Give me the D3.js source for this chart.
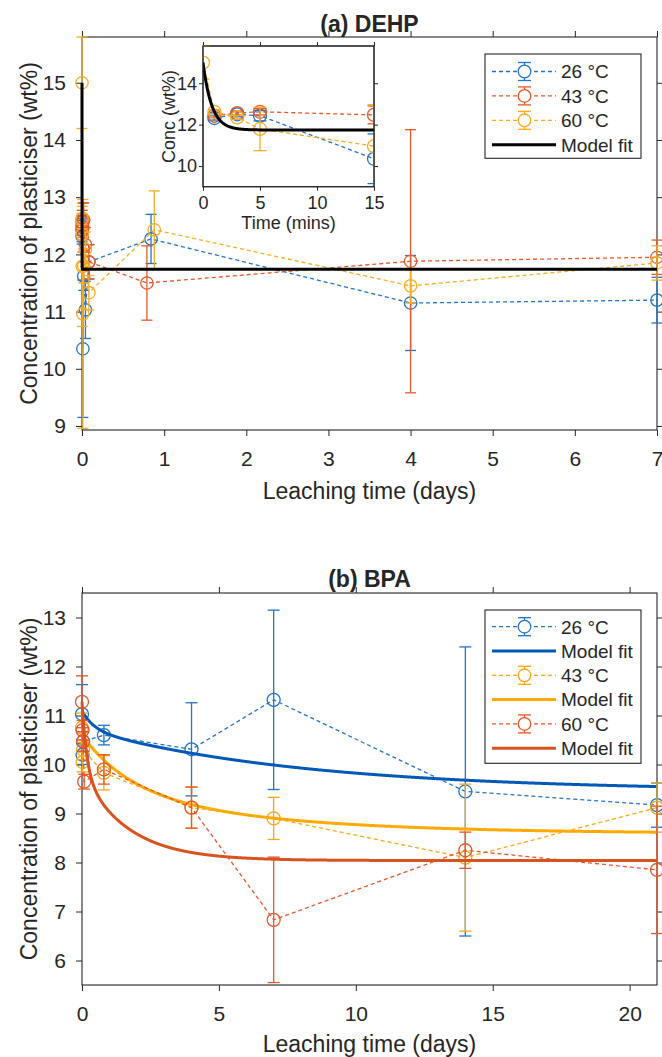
<!DOCTYPE html>
<html><head><meta charset="utf-8">
<script src="https://cdn.jsdelivr.net/npm/d3@7"></script>
<style>
body{margin:0;background:#fff}
svg{display:block}
text{font-family:"Liberation Sans",Arial,Helvetica,sans-serif;fill:#262626}
</style>
</head><body>
<svg id="c" width="662" height="1057"></svg>
<script>
// ===== (a) DEHP data, time in minutes =====
const dehpMin26 = [1, 3, 5, 15, 30, 60, 120, 1210, 5760, 10080];
const dehpConc26 = [12.32, 12.50, 12.43, 10.35, 11.62, 11.03, 11.87, 12.27, 11.15, 11.20];
const dehpErr26 = [0.10, 0.12, 0.25, 1.20, 0.25, 0.50, 0.30, 0.43, 0.83, 0.40];

const dehpMin43 = [1, 3, 5, 15, 30, 60, 120, 1138, 5760, 10080];
const dehpConc43 = [12.43, 12.56, 12.62, 12.47, 12.60, 12.17, 11.87, 11.50, 11.88, 11.95];
const dehpErr43 = [0.10, 0.10, 0.15, 0.43, 0.30, 0.30, 0.30, 0.65, 2.30, 0.30];

const dehpMin60 = [0, 1, 3, 5, 15, 30, 60, 120, 1267, 5760, 10080];
const dehpConc60 = [15.00, 12.62, 12.35, 11.79, 10.96, 11.80, 12.09, 11.33, 12.43, 11.45, 11.85];
const dehpErr60 = [0.80, 0.10, 0.10, 1.05, 2.00, 0.30, 0.30, 0.30, 0.68, 0.30, 0.30];

// DEHP model fit parameters: C = Cinf + (C0 - Cinf) exp(-k t), t in minutes
const dehpFitInf = 11.74;
const dehpFitC0 = 15.0;
const dehpFitK = 1.3;

const dehpLegend = ["26 °C", "43 °C", "60 °C", "Model fit"];
const dehpXTicks = [0, 1, 2, 3, 4, 5, 6, 7];
const dehpYTicks = [9, 10, 11, 12, 13, 14, 15];
const insetXTicks = [0, 5, 10, 15];
const insetYTicks = [10, 12, 14];

// ===== (b) BPA data, time in days =====
const bpaDay26 = [0, 0.02, 0.04, 0.8, 4, 7, 14, 21];
const bpaConc26 = [11.03, 10.20, 10.47, 10.60, 10.31, 11.32, 9.45, 9.17];
const bpaErr26 = [0.60, 0.20, 0.20, 0.20, 0.95, 1.83, 2.95, 0.45];

const bpaDay43 = [0, 0.02, 0.04, 0.8, 4, 7, 14, 21];
const bpaConc43 = [10.75, 10.05, 10.30, 9.83, 9.12, 8.90, 8.10, 9.12];
const bpaErr43 = [0.30, 0.20, 0.20, 0.35, 0.42, 0.43, 1.50, 0.50];

const bpaDay60 = [0, 0.02, 0.04, 0.08, 0.8, 4, 7, 14, 21];
const bpaConc60 = [11.28, 10.70, 10.47, 9.65, 9.90, 9.12, 6.83, 8.25, 7.85];
const bpaErr60 = [0.53, 0.20, 0.20, 0.15, 0.30, 0.42, 1.28, 0.37, 1.30];

// BPA model fits (26, 43, 60 °C): C = Cinf + A1 exp(-t/tau1) + A2 exp(-t/tau2)
const bpaFitInf = [9.456, 8.59, 8.04];
const bpaFitA1 = [0.37, 1.06, 1.44];
const bpaFitTau1 = [0.43, 1.73, 0.177];
const bpaFitA2 = [1.27, 0.95, 1.80];
const bpaFitTau2 = [8.07, 6.0, 1.67];

const bpaLegend = ["26 °C", "Model fit", "43 °C", "Model fit", "60 °C", "Model fit"];
const bpaXTicks = [0, 5, 10, 15, 20];
const bpaYTicks = [6, 7, 8, 9, 10, 11, 12, 13];

// ===== styling =====
const AX = "#262626";
const topColors = ["#2275c9", "#e8592a", "#f8ad22"];
const botColors = ["#2275c9", "#f8a81a", "#e8562a"];
const botFitColors = ["#0058b8", "#ffaa00", "#d9531e"];

const svg = d3.select("#c");

function axes(g, xs, ys, xt, yt, o) {
  const [x0, x1] = xs.range();
  const [y0, y1] = ys.range();
  const tl = o.tickLen;
  const fs = o.fs;
  const clean = s => { s.select(".domain").remove(); s.selectAll("line").attr("stroke", AX).attr("stroke-width", 1); };
  g.append("g").attr("transform", `translate(0,${y0})`)
    .call(d3.axisBottom(xs).tickValues(xt).tickSize(tl).tickPadding(o.padX).tickFormat(d3.format("d")))
    .call(clean).call(s => s.selectAll("text").attr("font-size", fs).attr("fill", AX));
  g.append("g").attr("transform", `translate(0,${y1})`)
    .call(d3.axisTop(xs).tickValues(xt).tickSize(tl).tickFormat(""))
    .call(clean);
  g.append("g").attr("transform", `translate(${x0},0)`)
    .call(d3.axisLeft(ys).tickValues(yt).tickSize(tl).tickPadding(o.padY).tickFormat(d3.format("d")))
    .call(clean).call(s => s.selectAll("text").attr("font-size", fs).attr("fill", AX));
  g.append("g").attr("transform", `translate(${x1},0)`)
    .call(d3.axisRight(ys).tickValues(yt).tickSize(tl).tickFormat(""))
    .call(clean);
  g.selectAll("g").attr("font-family", '"Liberation Sans",Arial,sans-serif');
  g.append("rect").attr("x", x0).attr("y", y1).attr("width", x1 - x0).attr("height", y0 - y1)
    .attr("fill", "none").attr("stroke", AX).attr("stroke-width", 1.1);
}

function series(g, xs, ys, ts, vs, es, color, o) {
  const pts = ts.map((t, i) => ({ t, v: vs[i], e: es[i] }));
  g.append("path").datum(pts)
    .attr("d", d3.line().x(d => xs(d.t)).y(d => ys(d.v)))
    .attr("fill", "none").attr("stroke", color).attr("stroke-width", 1.3)
    .attr("stroke-dasharray", "4,3");
  const eb = g.append("g").attr("stroke", color).attr("stroke-width", 1.3);
  pts.forEach(d => {
    const px = xs(d.t), a = ys(d.v + d.e), b = ys(d.v - d.e);
    eb.append("line").attr("x1", px).attr("x2", px).attr("y1", a).attr("y2", b);
    eb.append("line").attr("x1", px - o.cap / 2).attr("x2", px + o.cap / 2).attr("y1", a).attr("y2", a);
    eb.append("line").attr("x1", px - o.cap / 2).attr("x2", px + o.cap / 2).attr("y1", b).attr("y2", b);
  });
  g.append("g").selectAll("circle").data(pts).join("circle")
    .attr("cx", d => xs(d.t)).attr("cy", d => ys(d.v)).attr("r", o.r)
    .attr("fill", "none").attr("stroke", color).attr("stroke-width", 1.3);
}

function fitLine(g, xs, ys, ts, fn, color) {
  g.append("path").datum(ts)
    .attr("d", d3.line().x(t => xs(t)).y(t => ys(fn(t))))
    .attr("fill", "none").attr("stroke", color).attr("stroke-width", 3)
    .attr("stroke-linejoin", "round");
}

function legend(g, x, y, w, h, rowY0, dy, items) {
  g.append("rect").attr("x", x).attr("y", y).attr("width", w).attr("height", h)
    .attr("fill", "#fff").attr("stroke", AX).attr("stroke-width", 1.1);
  items.forEach((it, i) => {
    const cy = rowY0 + i * dy;
    const lx0 = x + 7, lx1 = x + 71, mx = x + 39.5;
    if (it.type === "data") {
      g.append("line").attr("x1", lx0).attr("x2", lx1).attr("y1", cy).attr("y2", cy)
        .attr("stroke", it.color).attr("stroke-width", 1.3).attr("stroke-dasharray", "4,3");
      const m = g.append("g").attr("stroke", it.color).attr("stroke-width", 1.3).attr("fill", "none");
      m.append("line").attr("x1", mx).attr("x2", mx).attr("y1", cy - 9).attr("y2", cy + 9);
      m.append("line").attr("x1", mx - 6.5).attr("x2", mx + 6.5).attr("y1", cy - 9).attr("y2", cy - 9);
      m.append("line").attr("x1", mx - 6.5).attr("x2", mx + 6.5).attr("y1", cy + 9).attr("y2", cy + 9);
      m.append("circle").attr("cx", mx).attr("cy", cy).attr("r", 6.3).attr("fill", "#fff");
    } else {
      g.append("line").attr("x1", lx0).attr("x2", lx1).attr("y1", cy).attr("y2", cy)
        .attr("stroke", it.color).attr("stroke-width", 3);
    }
    g.append("text").attr("x", x + 76).attr("y", cy).attr("dy", "0.36em")
      .attr("font-size", 19).attr("fill", "#000").text(it.label);
  });
}

// ================= Panel (a) =================
const ga = svg.append("g");
const xa = d3.scaleLinear().domain([0, 7]).range([82, 657]);
const ya = d3.scaleLinear().domain([8.93, 15.8]).range([430, 37]);
axes(ga, xa, ya, dehpXTicks, dehpYTicks, { tickLen: 6, padX: 15, padY: 10, fs: 21 });
const xaMin = d3.scaleLinear().domain([0, 7 * 1440]).range([82, 657]);
series(ga, xaMin, ya, dehpMin26, dehpConc26, dehpErr26, topColors[0], { r: 6.2, cap: 11 });
series(ga, xaMin, ya, dehpMin43, dehpConc43, dehpErr43, topColors[1], { r: 6.2, cap: 11 });
series(ga, xaMin, ya, dehpMin60, dehpConc60, dehpErr60, topColors[2], { r: 6.2, cap: 11 });
const dehpFit = t => dehpFitInf + (dehpFitC0 - dehpFitInf) * Math.exp(-dehpFitK * t);
const dehpFitT = d3.range(0, 20, 0.05).concat(d3.range(20, 10081, 20));
fitLine(ga, xaMin, ya, dehpFitT, dehpFit, "#000");

ga.append("text").attr("x", 369.5).attr("y", 32).attr("text-anchor", "middle")
  .attr("font-size", 23).attr("font-weight", "bold").attr("fill", "#000").text("(a) DEHP");
ga.append("text").attr("x", 369.5).attr("y", 499).attr("text-anchor", "middle")
  .attr("font-size", 23).text("Leaching time (days)");
ga.append("text").attr("transform", "translate(37,233.5) rotate(-90)").attr("text-anchor", "middle")
  .attr("font-size", 23).text("Concentration of plasticiser (wt%)");

// inset
const gi = svg.append("g");
const xi = d3.scaleLinear().domain([0, 15]).range([203, 374]);
const yi = d3.scaleLinear().domain([9, 15.8]).range([186.7, 46]);
gi.append("rect").attr("x", 203).attr("y", 46).attr("width", 171).attr("height", 140.7).attr("fill", "#fff");
gi.append("clipPath").attr("id", "ic").append("rect").attr("x", 203).attr("y", 45).attr("width", 171).attr("height", 142);
axes(gi, xi, yi, insetXTicks, insetYTicks, { tickLen: 4, padX: 6, padY: 2, fs: 18 });
const gic = gi.append("g").attr("clip-path", "url(#ic)");
const inset = (ts, vs, es) => {
  const idx = ts.map((t, i) => i).filter(i => ts[i] <= 15);
  return [idx.map(i => ts[i]), idx.map(i => vs[i]), idx.map(i => es[i])];
};
series(gic, xi, yi, ...inset(dehpMin26, dehpConc26, dehpErr26), topColors[0], { r: 6.5, cap: 13 });
series(gic, xi, yi, ...inset(dehpMin43, dehpConc43, dehpErr43), topColors[1], { r: 6.5, cap: 13 });
series(gic, xi, yi, ...inset(dehpMin60, dehpConc60, dehpErr60), topColors[2], { r: 6.5, cap: 13 });
fitLine(gic, xi, yi, d3.range(0, 15.01, 0.05), dehpFit, "#000");
gi.append("rect").attr("x", 203).attr("y", 46).attr("width", 171).attr("height", 140.7)
  .attr("fill", "none").attr("stroke", AX).attr("stroke-width", 1.1);
gi.append("text").attr("x", 288.5).attr("y", 229).attr("text-anchor", "middle")
  .attr("font-size", 18).text("Time (mins)");
gi.append("text").attr("transform", "translate(175,116.4) rotate(-90)").attr("text-anchor", "middle")
  .attr("font-size", 18).text("Conc (wt%)");

legend(svg.append("g"), 485, 54, 156, 104.3, 71.5, 24.4, [
  { type: "data", color: topColors[0], label: dehpLegend[0] },
  { type: "data", color: topColors[1], label: dehpLegend[1] },
  { type: "data", color: topColors[2], label: dehpLegend[2] },
  { type: "fit", color: "#000", label: dehpLegend[3] }
]);

// ================= Panel (b) =================
const gb = svg.append("g");
const xb = d3.scaleLinear().domain([0, 21]).range([82, 657]);
const yb = d3.scaleLinear().domain([5.5, 13.5]).range([985, 593]);
axes(gb, xb, yb, bpaXTicks, bpaYTicks, { tickLen: 6, padX: 15, padY: 10, fs: 21 });
const bpaFit = i => t => bpaFitInf[i] + bpaFitA1[i] * Math.exp(-t / bpaFitTau1[i]) + bpaFitA2[i] * Math.exp(-t / bpaFitTau2[i]);
const bpaFitT = d3.range(0, 21.001, 0.01);
series(gb, xb, yb, bpaDay26, bpaConc26, bpaErr26, botColors[0], { r: 6.5, cap: 12 });
fitLine(gb, xb, yb, bpaFitT, bpaFit(0), botFitColors[0]);
series(gb, xb, yb, bpaDay43, bpaConc43, bpaErr43, botColors[1], { r: 6.5, cap: 12 });
fitLine(gb, xb, yb, bpaFitT, bpaFit(1), botFitColors[1]);
series(gb, xb, yb, bpaDay60, bpaConc60, bpaErr60, botColors[2], { r: 6.5, cap: 12 });
fitLine(gb, xb, yb, bpaFitT, bpaFit(2), botFitColors[2]);

gb.append("text").attr("x", 369.5).attr("y", 587).attr("text-anchor", "middle")
  .attr("font-size", 23).attr("font-weight", "bold").attr("fill", "#000").text("(b) BPA");
gb.append("text").attr("x", 369.5).attr("y", 1052).attr("text-anchor", "middle")
  .attr("font-size", 23).text("Leaching time (days)");
gb.append("text").attr("transform", "translate(37,789) rotate(-90)").attr("text-anchor", "middle")
  .attr("font-size", 23).text("Concentration of plasticiser (wt%)");

legend(svg.append("g"), 485, 610, 156, 153.3, 626.7, 24.3, [
  { type: "data", color: botColors[0], label: bpaLegend[0] },
  { type: "fit", color: botFitColors[0], label: bpaLegend[1] },
  { type: "data", color: botColors[1], label: bpaLegend[2] },
  { type: "fit", color: botFitColors[1], label: bpaLegend[3] },
  { type: "data", color: botColors[2], label: bpaLegend[4] },
  { type: "fit", color: botFitColors[2], label: bpaLegend[5] }
]);
</script>
</body></html>
